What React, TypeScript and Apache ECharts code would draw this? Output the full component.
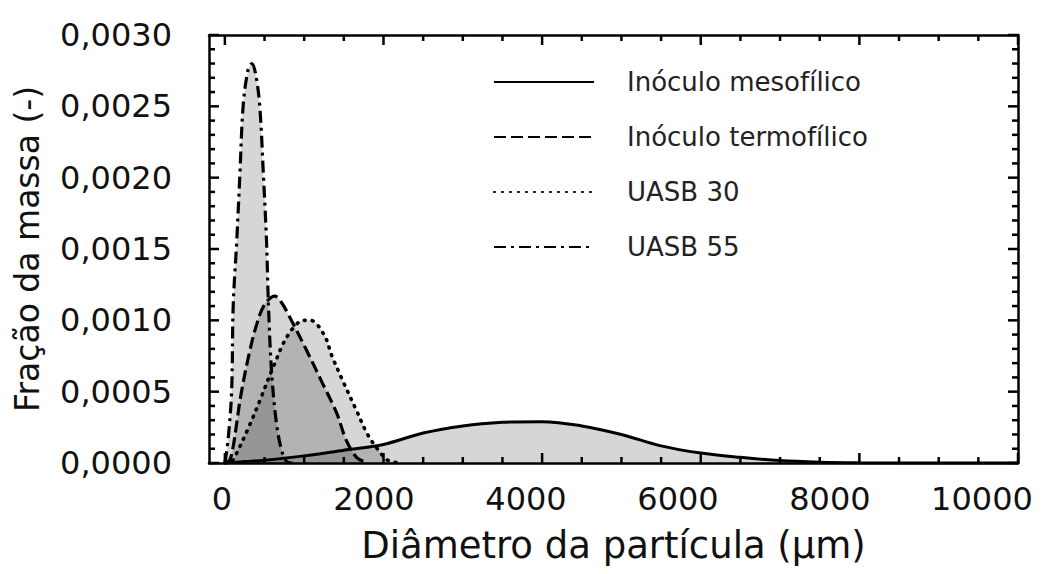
import React, { useEffect, useRef } from "react";
import * as echarts from "echarts";

const FONT = '"DejaVu Sans", "Liberation Sans", sans-serif';

// Series names (legend order)
const seriesNames = ["Inóculo mesofílico", "Inóculo termofílico", "UASB 30", "UASB 55"];

// Mass fraction vs particle diameter (µm)
const mesoX = [0, 250, 500, 1000, 1500, 2000, 2500, 3000, 3500, 4000, 4500, 5000, 5500, 6000, 6500, 7000, 7500, 8000, 9000, 10000];
const mesoY = [0, 0.00001, 0.00002, 0.00005, 0.00009, 0.00013, 0.00021, 0.00026, 0.000285, 0.00029, 0.00026, 0.0002, 0.00012, 0.00007, 0.00004, 0.000017, 0.000006, 0.000002, 0, 0];

const termoX = [0, 60, 100, 150, 200, 300, 400, 500, 630, 720, 820, 1030, 1230, 1410, 1530, 1660, 1800];
const termoY = [0, 0.00002, 0.0001, 0.00028, 0.00047, 0.00075, 0.00097, 0.00111, 0.00117, 0.00112, 0.00102, 0.00079, 0.00056, 0.00035, 0.00016, 0.00004, 0];

const uasb30X = [0, 100, 150, 300, 450, 600, 800, 1000, 1080, 1250, 1350, 1500, 1650, 1800, 1950, 2050, 2200];
const uasb30Y = [0, 0.00002, 0.00007, 0.00025, 0.00045, 0.00066, 0.0009, 0.001, 0.001, 0.0009, 0.00075, 0.00056, 0.00038, 0.0002, 0.00008, 0.00002, 0];

const uasb55X = [0, 40, 85, 105, 150, 190, 230, 290, 340, 390, 440, 485, 525, 550, 590, 650, 715, 780, 850];
const uasb55Y = [0, 0.00016, 0.0005, 0.0011, 0.00156, 0.00203, 0.0025, 0.00275, 0.0028, 0.00272, 0.0025, 0.00203, 0.00156, 0.0011, 0.00063, 0.00028, 0.00009, 0.00001, 0];

// Axis ranges, ticks and labels
const xMin = -200;
const xMax = 10000;
const yMin = 0;
const yMax = 0.003;
const yLabelStep = 0.0005;
const xTickLabels = [0, 2000, 4000, 6000, 8000, 10000];
const xMajorTicks = [0, 2000, 4000, 6000, 8000, 10000];
const xTicks = [0, 500, 1000, 1500, 2000, 2500, 3000, 3500, 4000, 4500, 5000, 5500, 6000, 6500, 7000, 7500, 8000, 8500, 9000, 9500, 10000];
const yMajorTicks = [0, 0.0005, 0.001, 0.0015, 0.002, 0.0025, 0.003];
const yTicks = [
  0, 0.0001, 0.0002, 0.0003, 0.0004, 0.0005, 0.0006, 0.0007, 0.0008, 0.0009, 0.001,
  0.0011, 0.0012, 0.0013, 0.0014, 0.0015, 0.0016, 0.0017, 0.0018, 0.0019, 0.002,
  0.0021, 0.0022, 0.0023, 0.0024, 0.0025, 0.0026, 0.0027, 0.0028, 0.0029, 0.003,
];

const lineTypes: any[] = ["solid", [12, 5], [1, 7], [12, 5, 3, 5]];
const lineCaps: any[] = ["butt", "butt", "round", "butt"];
const lineWidths = [3, 3.2, 3.6, 3.2];

const MAJOR_LEN = 10;
const MINOR_LEN = 6;
const tickStroke = { stroke: "#000", lineWidth: 2.5 };

const pairs = (xs: number[], ys: number[]) => xs.map((x, i) => [x, ys[i]]);
const isMajor = (list: number[], v: number) => list.some((m) => Math.abs(m - v) < 1e-9);

const frameLine = { show: true, onZero: false, lineStyle: { color: "#000", width: 2.5 } };

// Axis that only draws one edge of the frame
const frameAxis = (position: string, min: number, max: number) => ({
  type: "value",
  position,
  min,
  max,
  axisLine: frameLine,
  axisTick: { show: false },
  axisLabel: { show: false },
  splitLine: { show: false },
});

export default function App() {
  const ref = useRef<HTMLDivElement>(null);

  useEffect(() => {
    if (!ref.current) return;
    const chart = echarts.init(ref.current, undefined, { renderer: "svg" });

    const dataSets = [pairs(mesoX, mesoY), pairs(termoX, termoY), pairs(uasb30X, uasb30Y), pairs(uasb55X, uasb55Y)];

    chart.setOption({
      animation: false,
      backgroundColor: "#fff",
      grid: { left: 209, right: 34, top: 35, bottom: 111, show: false },
      legend: {
        data: seriesNames,
        orient: "vertical",
        left: 493,
        top: 69,
        itemWidth: 100,
        itemHeight: 20,
        itemGap: 29,
        padding: 0,
        itemStyle: { opacity: 0 },
        textStyle: { fontSize: 26, fontFamily: FONT, color: "#222", padding: [0, 0, 0, 28] },
      },
      xAxis: [
        {
          ...frameAxis("bottom", xMin, xMax),
          name: "Diâmetro da partícula (µm)",
          nameLocation: "middle",
          nameGap: 64,
          nameTextStyle: { fontSize: 37, fontFamily: FONT, color: "#111" },
        },
        frameAxis("top", xMin, xMax),
        {
          type: "value",
          position: "bottom",
          min: -171,
          max: 10474,
          axisLine: { show: false, onZero: false },
          axisTick: { show: false },
          splitLine: { show: false },
          axisLabel: {
            show: true,
            customValues: xTickLabels,
            margin: 20,
            fontSize: 32,
            fontFamily: FONT,
            color: "#111",
            formatter: (v: number) => String(v),
          },
        },
      ],
      yAxis: [
        {
          ...frameAxis("left", yMin, yMax),
          interval: yLabelStep,
          name: "Fração da massa (-)",
          nameLocation: "middle",
          nameGap: 165,
          nameTextStyle: { fontSize: 33, fontFamily: FONT, color: "#111" },
          axisLabel: {
            show: true,
            margin: 37,
            fontSize: 32,
            fontFamily: FONT,
            color: "#111",
            formatter: (v: number) => v.toFixed(4).replace(".", ","),
          },
        },
        frameAxis("right", yMin, yMax),
      ],
      series: seriesNames.map((name, i) => ({
        name,
        type: "line",
        xAxisIndex: 0,
        yAxisIndex: 0,
        data: dataSets[i],
        symbol: "none",
        smooth: 0.35,
        lineStyle: { color: "#000", width: lineWidths[i], type: lineTypes[i], cap: lineCaps[i] },
        itemStyle: { color: "#000" },
        areaStyle: { color: "rgba(0,0,0,0.23)", origin: "start" },
      })),
    });

    // Inward tick marks on all four edges, placed through the grid's own scales
    const toPx = (x: number, y: number) => chart.convertToPixel({ gridIndex: 0 }, [x, y]) as number[];
    const ticks: any[] = [];
    xTicks.forEach((v) => {
      const len = isMajor(xMajorTicks, v) ? MAJOR_LEN : MINOR_LEN;
      const b = toPx(v, yMin);
      const t = toPx(v, yMax);
      ticks.push({ type: "line", z: 100, silent: true, shape: { x1: b[0], y1: b[1], x2: b[0], y2: b[1] - len }, style: tickStroke });
      ticks.push({ type: "line", z: 100, silent: true, shape: { x1: t[0], y1: t[1], x2: t[0], y2: t[1] + len }, style: tickStroke });
    });
    yTicks.forEach((v) => {
      const len = isMajor(yMajorTicks, v) ? MAJOR_LEN : MINOR_LEN;
      const l = toPx(xMin, v);
      const r = toPx(xMax, v);
      ticks.push({ type: "line", z: 100, silent: true, shape: { x1: l[0], y1: l[1], x2: l[0] + len, y2: l[1] }, style: tickStroke });
      ticks.push({ type: "line", z: 100, silent: true, shape: { x1: r[0], y1: r[1], x2: r[0] - len, y2: r[1] }, style: tickStroke });
    });
    chart.setOption({ graphic: { elements: ticks } });

    return () => chart.dispose();
  }, []);

  return (
    <div
      ref={ref}
      style={{ position: "absolute", left: 0, top: 0, width: 1052, height: 574 }}
    />
  );
}
